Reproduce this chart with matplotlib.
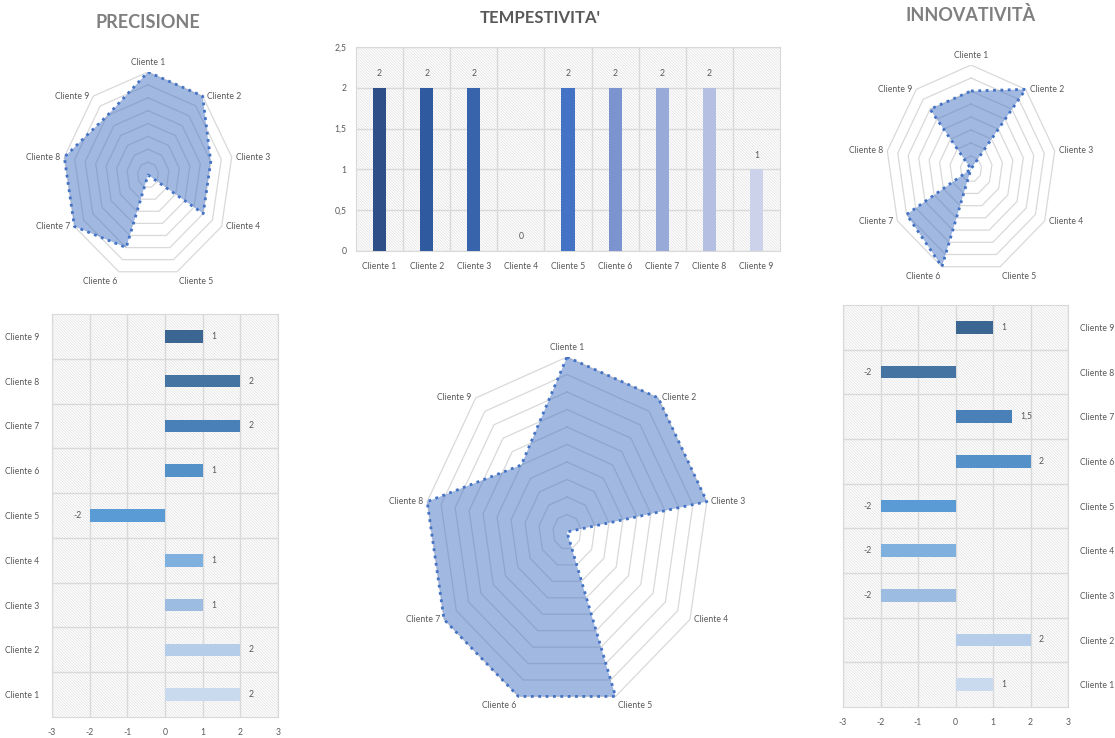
import numpy as np
import matplotlib
matplotlib.use('Agg')
import matplotlib.pyplot as plt
import matplotlib.transforms as mtransforms
from matplotlib import font_manager
from matplotlib.patches import Rectangle
from matplotlib.ticker import FuncFormatter

# dati
clienti = ['Cliente 1', 'Cliente 2', 'Cliente 3', 'Cliente 4', 'Cliente 5',
           'Cliente 6', 'Cliente 7', 'Cliente 8', 'Cliente 9']
precisione = [2, 2, 1, 1, -2, 1, 2, 2, 1]
tempestivita = [2, 2, 2, 0, 2, 2, 2, 2, 1]
innovativita = [1, 2, -2, -2, -2, 2, 1.5, -2, 1]

colori_tempestivita = ['#2f4f88', '#305a9f', '#3764aa', '#4169b8', '#4472c4',
                       '#7b94d0', '#98aad8', '#b4bfe1', '#ccd2ea']
colori_barre = ['#c9daef', '#b5cde9', '#9dbce2', '#80b0de', '#5b9bd5',
                '#5591c9', '#4a80b8', '#4574a3', '#3b6691']

W, H = 1115, 738
GRIGIO = '#d9d9d9'
TESTO = '#595959'
FS = 6.2

avail = {f.name for f in font_manager.fontManager.ttflist}
font_small = next((f for f in ['Liberation Sans Narrow', 'Lato', 'Open Sans'] if f in avail), 'DejaVu Sans')
font_title = next((f for f in ['Lato', 'Open Sans'] if f in avail), 'DejaVu Sans')
plt.rcParams['font.family'] = [font_small, 'DejaVu Sans']
plt.rcParams['hatch.linewidth'] = 0.45
plt.rcParams['axes.unicode_minus'] = False

fig = plt.figure(figsize=(W / 100, H / 100), dpi=100)


def box(x0, y0, x1, y1):
    return fig.add_axes([x0 / W, 1 - y1 / H, (x1 - x0) / W, (y1 - y0) / H])


def virgola(v, pos=None):
    return ('%g' % v).replace('.', ',')


def sfondo(ax):
    ax.add_patch(Rectangle((0, 0), 1, 1, transform=ax.transAxes, facecolor='white',
                           edgecolor='#dedede', hatch='\\' * 12, lw=0, zorder=0))
    for s in ax.spines.values():
        s.set_color(GRIGIO)
    ax.set_axisbelow(True)
    ax.tick_params(length=0, labelsize=FS, labelcolor=TESTO, which='both')


def radar(cx, cy, rh, rv, values, vmin, vmax, nrings):
    ax = box(cx - rh, cy - rv, cx + rh, cy + rv)
    ax.set_xlim(-1, 1)
    ax.set_ylim(-1, 1)
    ax.axis('off')
    ang = 2 * np.pi * np.arange(len(values)) / len(values)
    sx, sy = np.sin(ang), np.cos(ang)
    for k in range(1, nrings + 1):
        f = k / nrings
        ax.plot(np.append(sx, sx[0]) * f, np.append(sy, sy[0]) * f, color=GRIGIO, lw=0.9, zorder=1)
    r = (np.array(values, dtype=float) - vmin) / (vmax - vmin)
    px, py = r * sx, r * sy
    ax.fill(px, py, color='#4472c4', alpha=0.5, lw=0, zorder=2)
    ax.plot(np.append(px, px[0]), np.append(py, py[0]), color='#4472c4', ls=':', lw=2, zorder=3)
    for lab, s, c in zip(clienti, sx, sy):
        if abs(s) < 0.1:
            ha, va, dx, dy = 'center', 'bottom', 0, 5
        elif c < -0.9:
            ha, va, dx, dy = ('left' if s > 0 else 'right'), 'top', 2 * np.sign(s), -5
        else:
            ha, va, dx, dy = ('left' if s > 0 else 'right'), 'center', 4 * np.sign(s), 0
        tr = mtransforms.offset_copy(ax.transData, fig=fig, x=dx, y=dy, units='dots')
        ax.text(s, c, lab, transform=tr, ha=ha, va=va, fontsize=FS, color=TESTO, clip_on=False)
    return ax


def barre_orizzontali(ax, values, lato):
    y = np.arange(len(values))
    ax.barh(y, values, height=0.28, color=colori_barre, zorder=3)
    ax.set_xlim(-3, 3)
    ax.set_ylim(-0.5, len(values) - 0.5)
    ax.set_xticks(range(-3, 4))
    ax.set_yticks(y)
    ax.set_yticklabels(clienti)
    ax.set_yticks(np.arange(0.5, len(values) - 1), minor=True)
    ax.grid(True, axis='x', which='major', color=GRIGIO, lw=1)
    ax.grid(True, axis='y', which='minor', color=GRIGIO, lw=1)
    ax.grid(False, axis='y', which='major')
    sfondo(ax)
    ax.tick_params(axis='x', pad=8)
    ax.tick_params(axis='y', pad=9)
    if lato == 'right':
        ax.yaxis.tick_right()
        ax.tick_params(axis='y', which='both', length=0)
    for yi, v in zip(y, values):
        off = 6 if v >= 0 else -6
        ax.annotate(virgola(v), (v, yi), xytext=(off, 0), textcoords='offset points',
                    ha='left' if v >= 0 else 'right', va='center', fontsize=FS, color=TESTO)


# titoli
fig.text(148 / W, 1 - 22 / H, 'PRECISIONE', ha='center', va='center', fontsize=13,
         fontweight='bold', color='#7f7f7f', family=font_title)
fig.text(540 / W, 1 - 18 / H, "TEMPESTIVITA'", ha='center', va='center', fontsize=12,
         fontweight='bold', color=TESTO, family=font_title)
fig.text(971 / W, 1 - 15 / H, 'INNOVATIVITÀ', ha='center', va='center', fontsize=13,
         fontweight='bold', color='#7f7f7f', family=font_title)

# radar
radar(148, 175, 85, 103, precisione, -2, 2, 8)
radar(971, 169, 85, 104, innovativita, -2, 2, 8)
radar(567, 532, 142, 175, tempestivita, 0, 2, 10)

# istogramma tempestivita
ax = box(356, 47, 780, 251)
x = np.arange(len(tempestivita))
ax.bar(x, tempestivita, width=0.28, color=colori_tempestivita, zorder=3)
ax.set_xlim(-0.5, len(x) - 0.5)
ax.set_ylim(0, 2.5)
ax.set_yticks(np.arange(0, 2.51, 0.5))
ax.yaxis.set_major_formatter(FuncFormatter(virgola))
ax.set_xticks(x)
ax.set_xticklabels(clienti)
ax.set_xticks(np.arange(0.5, len(x) - 1), minor=True)
ax.grid(True, axis='y', which='major', color=GRIGIO, lw=1)
ax.grid(True, axis='x', which='minor', color=GRIGIO, lw=1)
sfondo(ax)
ax.tick_params(axis='x', pad=8)
ax.tick_params(axis='y', pad=7)
for xi, v in zip(x, tempestivita):
    ax.annotate(virgola(v), (xi, v), xytext=(0, 7), textcoords='offset points',
                ha='center', va='bottom', fontsize=FS, color=TESTO)

# barre orizzontali
barre_orizzontali(box(52, 314, 278, 717), precisione, 'left')
barre_orizzontali(box(843, 305, 1068, 707), innovativita, 'right')

fig.savefig('out.png', dpi=100, facecolor='white')
